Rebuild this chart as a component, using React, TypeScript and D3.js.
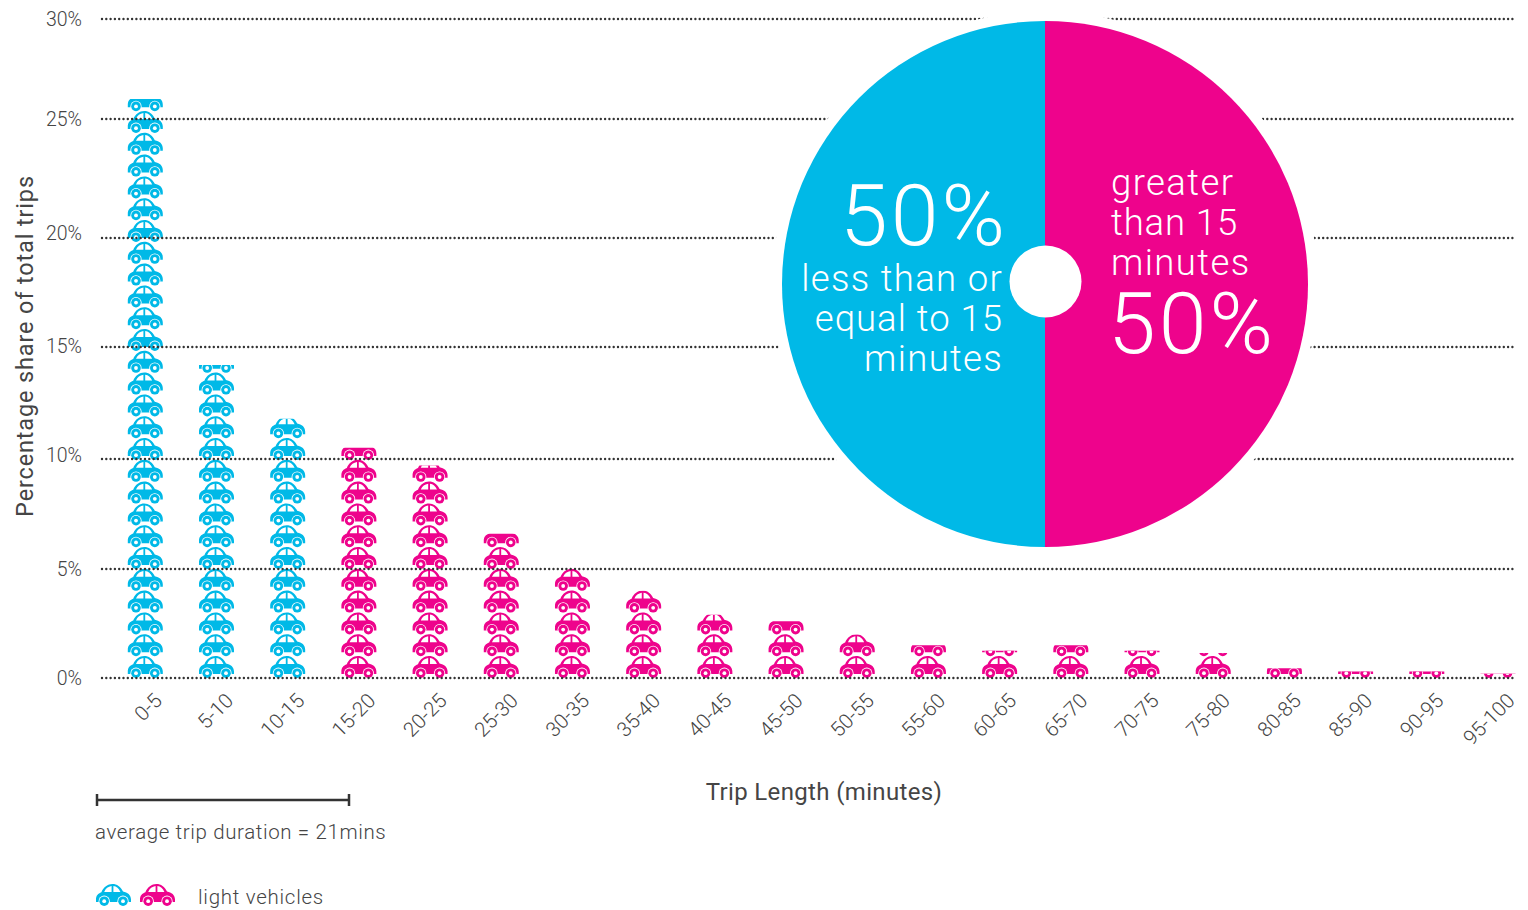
import React from "react";
import * as d3 from "d3";

const categories = ["0-5","5-10","10-15","15-20","20-25","25-30","30-35","35-40","40-45","45-50","50-55","55-60","60-65","65-70","70-75","75-80","80-85","85-90","90-95","95-100"];
const shares = [26,14.2,11.8,10.5,9.7,6.6,5.0,4.0,2.9,2.6,2.0,1.5,1.25,1.5,1.25,1.15,0.45,0.3,0.3,0.2];
const longTrip = [false,false,false,true,true,true,true,true,true,true,true,true,true,true,true,true,true,true,true,true];
const yTicks = [0,5,10,15,20,25,30];
const pieShares = [50,50];

const BLUE = "#00b9e7";
const PINK = "#ee038c";
const TEXT = "#454545";
const FONT = "Roboto, 'Open Sans', sans-serif";

// The source chart's gridlines are not evenly spaced
const y = d3.scaleLinear().domain(yTicks).range([678,569,459,347,238,119,19]);
const x = d3.scalePoint().domain(categories).range([145.3,1498]);
const labelNudge = [0,0,-4,-1,-5,0,0];
const PITCH = 21.8;
const CAR_W = 35;
const CAR_H = 22;

const pieArcs = d3.pie<number>().sort(null).startAngle(Math.PI*2).endAngle(0)(pieShares);
const arcGen = d3.arc<d3.PieArcDatum<number>>().innerRadius(0).outerRadius(263);

function Car({ color, cx, bottom }: { color: string; cx: number; bottom: number }) {
  return (
    <g transform={`translate(${cx - CAR_W / 2},${bottom - CAR_H})`}>
      <path fill={color} d="M0,15.5 C0,11.5 2,9.6 5.4,8.2 C7.6,3 11.8,0 16.4,0 C21,0 24.6,2.6 27,7.4 C31.5,8.4 35,10.6 35,15.5 L35,18 L0,18 Z" />
      <path fill="#fff" d="M8.2,8 C9.6,4.6 12.2,2.6 15.6,2.1 L15.6,8 Z M17.4,2.1 C20.6,2.4 22.8,4.6 24.4,8 L17.4,8 Z" />
      {[8.2, 27].map((wx) => (
        <g key={wx}>
          <circle cx={wx} cy={17.2} r={5.6} fill="#fff" />
          <circle cx={wx} cy={17.2} r={4.8} fill={color} />
          <circle cx={wx} cy={17.2} r={1.9} fill="#fff" />
        </g>
      ))}
    </g>
  );
}

export default function App() {
  return (
    <svg width={1528} height={910} style={{ position: "absolute", left: 0, top: 0, background: "#fff" }} fontFamily={FONT}>
      <defs>
        {categories.map((c, i) => (
          <clipPath id={`clip-${i}`} key={c}>
            <rect x={(x(c) as number) - 20} y={y(shares[i])} width={40} height={y(0) + 4 - y(shares[i])} />
          </clipPath>
        ))}
      </defs>

      {categories.map((c, i) => {
        const n = Math.ceil((y(0) - y(shares[i])) / PITCH);
        return (
          <g key={c} clipPath={`url(#clip-${i})`}>
            {d3.range(n).map((k) => (
              <Car key={k} color={longTrip[i] ? PINK : BLUE} cx={x(c) as number} bottom={y(0) - k * PITCH} />
            ))}
          </g>
        );
      })}

      {yTicks.map((t, i) => (
        <g key={t}>
          <line x1={102} x2={1514} y1={y(t)} y2={y(t)} stroke="#333" strokeWidth={2.4} strokeLinecap="round" strokeDasharray="0 4.3" />
          <text x={82} y={y(t) + labelNudge[i] + 7} textAnchor="end" fontSize={19.5} fill={TEXT} fontWeight={300}>{t}%</text>
        </g>
      ))}

      {categories.map((c) => (
        <text key={c} transform={`translate(${(x(c) as number) + 18},${702}) rotate(-45)`} textAnchor="end" fontSize={20.5} fill={TEXT} fontWeight={300}>{c}</text>
      ))}

      <circle cx={1045} cy={284} r={273} fill="#fff" />
      <g transform="translate(1045,284)">
        {pieArcs.map((a, i) => (
          <path key={i} d={arcGen(a) as string} fill={i === 0 ? BLUE : PINK} />
        ))}
      </g>
      <circle cx={1045.5} cy={281.5} r={36} fill="#fff" />

      <g fill="#fff" fontWeight={300}>
        <text x={1008} y={245} textAnchor="end" fontSize={86} letterSpacing={3}>50%</text>
        <g fontSize={36.5} textAnchor="end" letterSpacing={1.3}>
          <text x={1003} y={291}>less than or</text>
          <text x={1003} y={331} letterSpacing={1}>equal to 15</text>
          <text x={1003} y={371}>minutes</text>
        </g>
        <g fontSize={36.5} letterSpacing={1.4}>
          <text x={1111} y={195}>greater</text>
          <text x={1111} y={235} letterSpacing={0.9}>than 15</text>
          <text x={1111} y={275}>minutes</text>
        </g>
        <text x={1108} y={353} fontSize={86} letterSpacing={3}>50%</text>
      </g>

      <text transform="translate(33,346) rotate(-90)" textAnchor="middle" fontSize={23.5} letterSpacing={0.85} fill={TEXT}>Percentage share of total trips</text>
      <text x={824} y={800} textAnchor="middle" fontSize={24} letterSpacing={0.35} fill={TEXT}>Trip Length (minutes)</text>

      <g stroke="#333" strokeWidth={2.5}>
        <line x1={97} x2={349} y1={800} y2={800} />
        <line x1={97} x2={97} y1={794} y2={806} />
        <line x1={349} x2={349} y1={794} y2={806} />
      </g>
      <text x={95} y={839} fontSize={20.5} letterSpacing={0.62} fill={TEXT} fontWeight={300}>average trip duration = 21mins</text>

      <Car color={BLUE} cx={113.5} bottom={906} />
      <Car color={PINK} cx={157.5} bottom={906} />
      <text x={198} y={904} fontSize={20.5} letterSpacing={0.72} fill={TEXT} fontWeight={300}>light vehicles</text>
    </svg>
  );
}
